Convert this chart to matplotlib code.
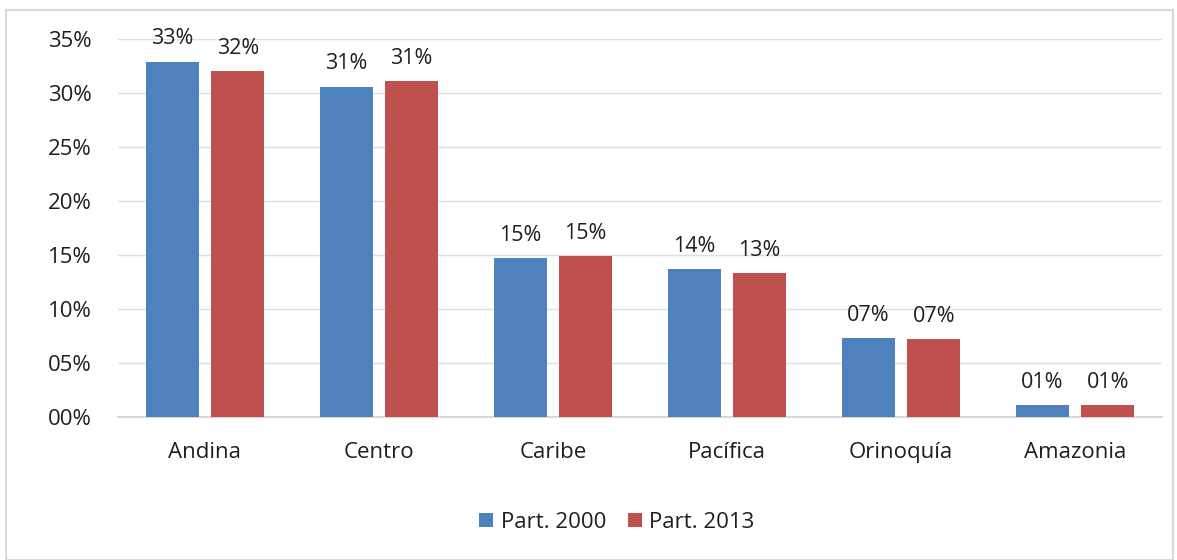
import matplotlib
matplotlib.use("Agg")
import matplotlib.pyplot as plt
from matplotlib.patches import Rectangle
import numpy as np

categories = ["Andina", "Centro", "Caribe", "Pacífica", "Orinoquía", "Amazonia"]
part_2000 = [0.329, 0.306, 0.147, 0.137, 0.073, 0.011]
part_2013 = [0.320, 0.311, 0.149, 0.133, 0.072, 0.011]
series_names = ["Part. 2000", "Part. 2013"]
yticks = [0, 0.05, 0.10, 0.15, 0.20, 0.25, 0.30, 0.35]

plt.rcParams['font.family'] = ['Open Sans', 'DejaVu Sans']
blue = "#4F81BD"
red = "#C0504D"
text_color = "#1F1F1F"

fig = plt.figure(figsize=(11.77, 5.6), dpi=100)
fig.patches.append(Rectangle((6/1177, 0.0), (1173-6)/1177, 1 - 10/560, transform=fig.transFigure,
                             fill=False, edgecolor="#D9D9D9", linewidth=1.5))
ax = fig.add_axes([118/1177, 1 - 417/560, (1162-118)/1177, (417-39)/560])

x = np.arange(len(categories))
w = 0.305
off = 0.188
b1 = ax.bar(x - off, part_2000, w, color=blue, label=series_names[0], zorder=3)
b2 = ax.bar(x + off, part_2013, w, color=red, label=series_names[1], zorder=3)

for bars, vals in ((b1, part_2000), (b2, part_2013)):
    for rect, v in zip(bars, vals):
        ax.annotate("%02d%%" % round(v * 100), (rect.get_x() + rect.get_width() / 2, v),
                    xytext=(0, 9), textcoords="offset points", ha="center", va="bottom",
                    fontsize=15.5, color=text_color)

ax.set_xlim(-0.5, len(categories) - 0.5)
ax.set_ylim(0, 0.35)
ax.set_yticks(yticks)
ax.set_yticklabels(["%02d%%" % round(t * 100) for t in yticks])
ax.set_xticks(x)
ax.set_xticklabels(categories)
ax.tick_params(axis="both", length=0, labelsize=16, colors=text_color)
ax.tick_params(axis="x", pad=18)
ax.tick_params(axis="y", pad=19)
ax.grid(axis="y", color="#D6E0EE", linewidth=1, zorder=0)
for s in ["top", "right", "left"]:
    ax.spines[s].set_visible(False)
ax.spines["bottom"].set_color("#D9D9D9")
ax.spines["bottom"].set_linewidth(1.5)

fig.legend(handles=[b1, b2], labels=series_names, loc="center", bbox_to_anchor=(617/1177, 1 - 522/560),
           ncol=2, frameon=False, fontsize=16, handlelength=0.6, handleheight=0.6,
           handletextpad=0.35, columnspacing=1.0, labelcolor=text_color)

fig.savefig("out.png", dpi=100)
